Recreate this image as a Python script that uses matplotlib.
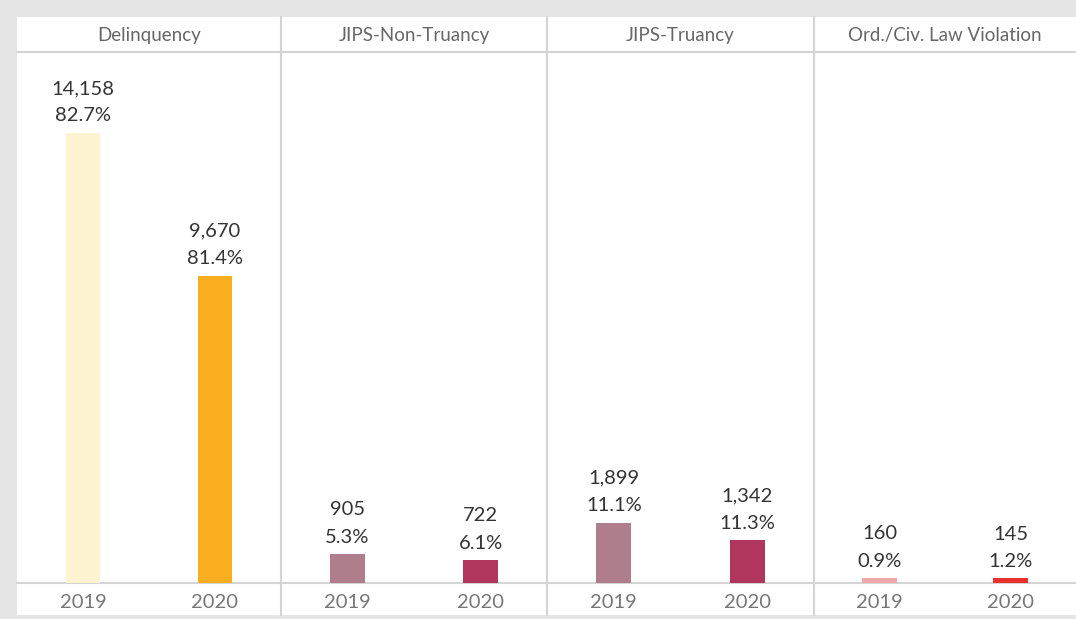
import matplotlib.pyplot as plt
from matplotlib.patches import Rectangle
from matplotlib.lines import Line2D

plt.rcParams['font.family'] = ['Lato', 'DejaVu Sans']

# data
categories = ['Delinquency', 'JIPS-Non-Truancy', 'JIPS-Truancy', 'Ord./Civ. Law Violation']
years = ['2019', '2020']
counts_2019 = [14158, 905, 1899, 160]
counts_2020 = [9670, 722, 1342, 145]
pct_2019 = ['82.7%', '5.3%', '11.1%', '0.9%']
pct_2020 = ['81.4%', '6.1%', '11.3%', '1.2%']

colors_2019 = ['#fdf3d0', '#b07d8c', '#b07d8c', '#f0a9aa']
colors_2020 = ['#f9ae1f', '#b0365e', '#b0365e', '#e8312b']

W, H = 1076, 619
fig = plt.figure(figsize=(W / 100, H / 100), dpi=100)
fig.patch.set_facecolor('#e5e5e5')

def fx(px):
    return px / W

def fy(py):
    return 1 - py / H

# white panel
fig.patches.append(Rectangle((fx(17), fy(615)), fx(1076) - fx(17), fy(17) - fy(615),
                             transform=fig.transFigure, facecolor='white',
                             edgecolor='none', zorder=-5))

edges = [17, 281, 547, 814, 1076]
top, bottom = 52, 583
line_c = '#d4d4d4'

ymax = 16700
for i, cat in enumerate(categories):
    x0, x1 = edges[i], edges[i + 1]
    ax = fig.add_axes([fx(x0), fy(bottom), fx(x1) - fx(x0), fy(top) - fy(bottom)])
    ax.set_zorder(3)
    ax.set_facecolor('none')
    vals = [counts_2019[i], counts_2020[i]]
    pcts = [pct_2019[i], pct_2020[i]]
    cols = [colors_2019[i], colors_2020[i]]
    ax.bar([0, 1], vals, width=0.26, color=cols)
    for j in range(2):
        ax.annotate(f'{vals[j]:,}\n{pcts[j]}', (j, vals[j]), xytext=(0, 6),
                    textcoords='offset points', ha='center', va='bottom',
                    fontsize=14.5, color='#333333', linespacing=1.75)
    ax.set_xlim(-0.5, 1.5)
    ax.set_ylim(0, ymax)
    ax.axis('off')
    # header and year labels
    fig.text(fx((x0 + x1) / 2), fy(36), cat, ha='center', va='center',
             fontsize=13.5, color='#666666')
    for j, yr in enumerate(years):
        fig.text(fx(x0 + (x1 - x0) * (0.25 + 0.5 * j)), fy(603), yr,
                 ha='center', va='center', fontsize=14.5, color='#777777')

# grid lines
fig.lines.append(Line2D([fx(17), 1], [fy(top), fy(top)], transform=fig.transFigure,
                        color=line_c, lw=1.5, zorder=1))
fig.lines.append(Line2D([fx(17), 1], [fy(bottom), fy(bottom)], transform=fig.transFigure,
                        color=line_c, lw=1.5, zorder=1))
for x in edges[1:-1]:
    fig.lines.append(Line2D([fx(x), fx(x)], [fy(17), fy(615)], transform=fig.transFigure,
                            color=line_c, lw=1.5, zorder=1))

fig.savefig('out.png', dpi=100, facecolor=fig.get_facecolor())
